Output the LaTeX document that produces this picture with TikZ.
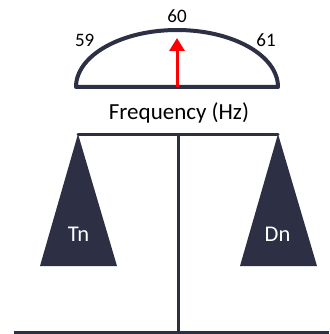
\documentclass[tikz,border=0pt]{standalone}
\usepackage{fontspec}
\setmainfont{Carlito}
\usetikzlibrary{arrows.meta}
\definecolor{navy}{HTML}{2D2F45}
\begin{document}
\begin{tikzpicture}[x=1pt,y=-1pt,
  lbl/.style={font=\fontsize{19}{22}\selectfont,text=black,inner sep=0pt,anchor=base},
  wlbl/.style={font=\fontsize{22.5}{26}\selectfont,text=white,inner sep=0pt,anchor=base},
  bar/.style={draw=navy,line width=3pt},
  weight/.style={fill=navy,draw=none}]
\useasboundingbox (0,0) rectangle (329,334);
% gauge
\coordinate (gl) at (76,87);
\coordinate (gr) at (278,87);
\draw[navy,line width=4pt,line join=round] (gl) arc[start angle=180,end angle=0,x radius=101,y radius=-57] -- cycle;
\coordinate (ab) at (177,87);
\coordinate (at) at (177,38);
\draw[red,line width=3pt,-{Triangle[length=13pt,width=15pt]}] (ab) -- (at);
\node[lbl] (l60) at (177,22.7) {60};
\node[lbl] (l59) at (84.7,46.7) {59};
\node[lbl] (l61) at (266,46.7) {61};
\node[font=\fontsize{23}{27}\selectfont,inner sep=0pt,anchor=base] (freq) at (179,119) {Frequency (Hz)};
% scale
\coordinate (bl) at (78,134);
\coordinate (br) at (278,134);
\coordinate (pt) at (178,134);
\coordinate (pb) at (178,334);
\coordinate (gl2) at (14,332);
\coordinate (gr2) at (329,332);
\draw[bar] (gl2) -- (gr2);
\draw[bar] (pt) -- (pb);
\draw[bar,line cap=round] (bl) -- (br);
\fill[weight] (bl) -- (117,266) -- (40,266) -- cycle;
\fill[weight] (br) -- (317,266) -- (240,266) -- cycle;
\node[wlbl] (tn) at (78.5,241.7) {Tn};
\node[wlbl] (dn) at (277.5,241.7) {Dn};
\end{tikzpicture}
\end{document}
